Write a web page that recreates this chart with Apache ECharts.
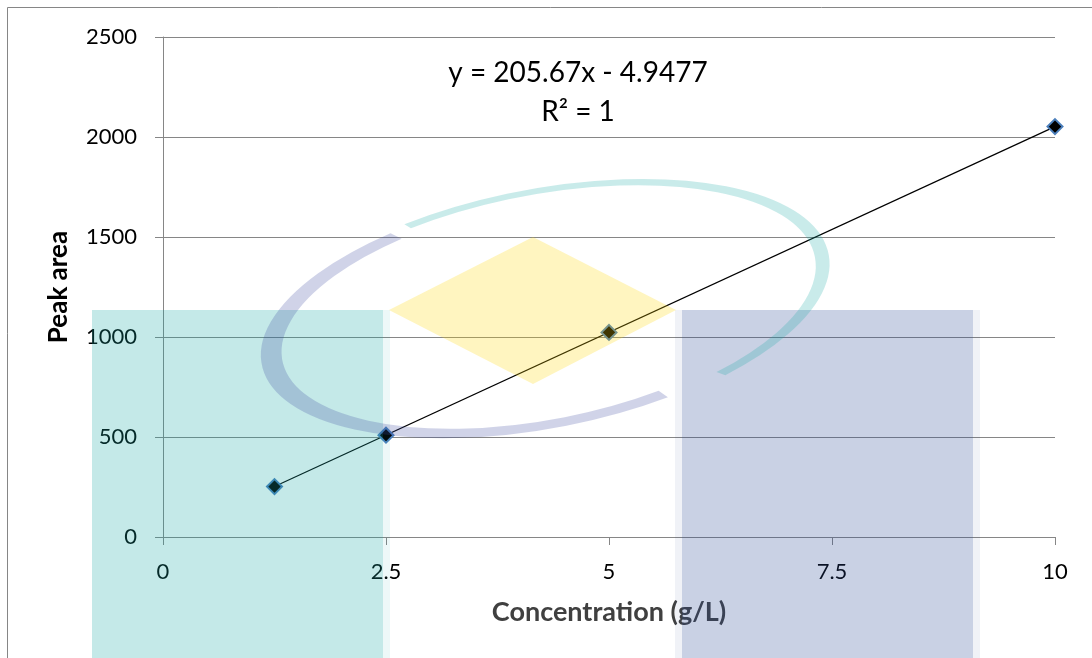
<!DOCTYPE html>
<html>
<head>
<meta charset="utf-8">
<script src="https://cdn.jsdelivr.net/npm/echarts@6/dist/echarts.min.js"></script>
<style>
  html, body { margin: 0; padding: 0; background: #fff; }
  #chart { width: 1092px; height: 658px; }
</style>
</head>
<body>
<div id="chart"></div>
<script>
  // calibration data
  const concentration = [1.25, 2.5, 5, 10]
  const peakArea = [252, 509, 1023, 2052]
  const xTicks = [0, 2.5, 5, 7.5, 10]
  const yTicks = [0, 500, 1000, 1500, 2000, 2500]
  // linear trendline from the chart
  const slope = 205.67
  const intercept = -4.9477
  const equation = 'y = 205.67x - 4.9477'
  const rSquared = 'R² = 1'

  const font = 'Lato'
  const grey = '#868686'

  const points = concentration.map((x, i) => [x, peakArea[i]])
  const xFirst = concentration[0]
  const xLast = concentration[concentration.length - 1]
  const trend = [[xFirst, slope * xFirst + intercept], [xLast, slope * xLast + intercept]]

  // faded logo (sits over the plot, semi transparent, like in the original)
  const deg = Math.PI / 180
  const wm = function (el) {
    el.silent = true
    el.z = 100
    return el
  }
  const teal = 'rgb(20,168,164)'
  const blue = 'rgb(40,72,148)'
  const watermark = [
    // teal block + pale edge
    wm({type: 'rect', shape: {x: 92, y: 310, width: 291, height: 360}, style: {fill: teal, opacity: 0.25}}),
    wm({type: 'rect', shape: {x: 383, y: 310, width: 7, height: 360}, style: {fill: teal, opacity: 0.08}}),
    // blue block + pale edges
    wm({type: 'rect', shape: {x: 682, y: 310, width: 291, height: 360}, style: {fill: blue, opacity: 0.25}}),
    wm({type: 'rect', shape: {x: 675, y: 310, width: 7, height: 360}, style: {fill: blue, opacity: 0.07}}),
    wm({type: 'rect', shape: {x: 973, y: 310, width: 7, height: 360}, style: {fill: blue, opacity: 0.07}}),
    // yellow diamond
    wm({type: 'polygon', shape: {points: [[533, 237], [676, 310], [533, 384], [389, 310]]}, style: {fill: 'rgb(255,216,4)', opacity: 0.25}}),
    // swirl: outer teal arc, inner purple arc
    wm({type: 'arc', x: 542, y: 310, scaleY: 0.414, rotation: 11 * deg,
      shape: {cx: 0, cy: 0, r: 285, startAngle: 246 * deg, endAngle: 415 * deg, clockwise: true},
      style: {stroke: teal, lineWidth: 14, fill: null, opacity: 0.23}}),
    wm({type: 'arc', x: 542, y: 310, scaleY: 0.414, rotation: 11 * deg,
      shape: {cx: 0, cy: 0, r: 275, startAngle: 68 * deg, endAngle: 242 * deg, clockwise: true},
      style: {stroke: 'rgb(60,72,160)', lineWidth: 21, fill: null, opacity: 0.24}})
  ]

  const myChart = echarts.init(document.getElementById('chart'))
  const option = {
    animation: false,
    backgroundColor: '#fff',
    grid: {left: 163, right: 37, top: 37, bottom: 121},
    graphic: [
      {type: 'rect', silent: true, z: -1, shape: {x: 7.5, y: 7.5, width: 1200, height: 800},
        style: {fill: null, stroke: grey, lineWidth: 1}},
      {type: 'text', silent: true, x: 578, y: 73, style: {text: equation, font: '28px "' + font + '"', fill: '#000', align: 'center', verticalAlign: 'middle'}},
      {type: 'text', silent: true, x: 578, y: 112, style: {text: rSquared, font: '28px "' + font + '"', fill: '#000', align: 'center', verticalAlign: 'middle'}}
    ].concat(watermark),
    xAxis: {
      type: 'value',
      min: xTicks[0],
      max: xTicks[xTicks.length - 1],
      interval: xTicks[1] - xTicks[0],
      name: 'Concentration (g/L)',
      nameLocation: 'middle',
      nameGap: 62,
      nameTextStyle: {fontFamily: font, fontWeight: 'bold', fontSize: 27, color: '#404040'},
      axisLine: {show: true, lineStyle: {color: grey, width: 1}},
      axisTick: {show: true, length: 8, lineStyle: {color: grey}},
      axisLabel: {fontFamily: font, fontSize: 22, color: '#000', margin: 24},
      splitLine: {show: false}
    },
    yAxis: {
      type: 'value',
      min: yTicks[0],
      max: yTicks[yTicks.length - 1],
      interval: yTicks[1] - yTicks[0],
      name: 'Peak area',
      nameLocation: 'middle',
      nameGap: 91,
      nameTextStyle: {fontFamily: font, fontWeight: 'bold', fontSize: 26, color: '#000'},
      axisLine: {show: true, lineStyle: {color: grey, width: 1}},
      axisTick: {show: true, length: 8, lineStyle: {color: grey}},
      axisLabel: {fontFamily: font, fontSize: 22, color: '#000', margin: 26, formatter: v => String(v)},
      splitLine: {show: true, lineStyle: {color: grey, width: 1}}
    },
    series: [
      {
        name: 'trend',
        type: 'line',
        data: trend,
        symbol: 'none',
        lineStyle: {color: '#000', width: 1.2},
        z: 2
      },
      {
        name: 'Peak area',
        type: 'scatter',
        data: points,
        symbol: 'diamond',
        symbolSize: 15,
        itemStyle: {color: '#000', borderColor: '#4a7ebb', borderWidth: 2, opacity: 1},
        z: 3
      }
    ]
  }
  myChart.setOption(option)
</script>
</body>
</html>
